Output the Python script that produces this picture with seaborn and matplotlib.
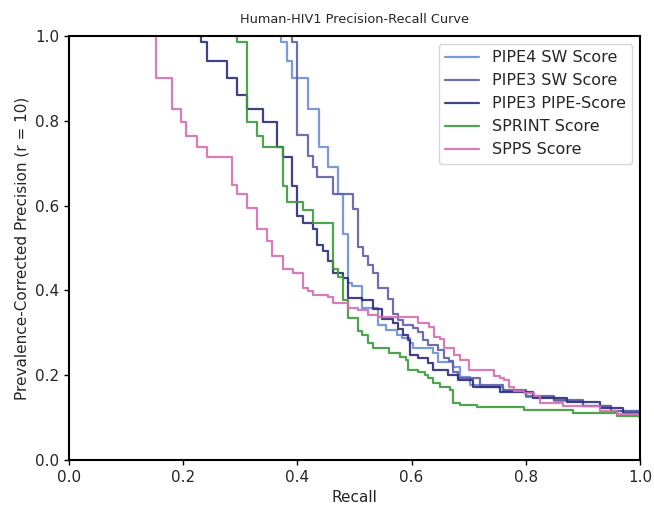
import pandas as pd
import numpy as np
import seaborn as sns
import matplotlib.pyplot as plt

# =========================
# データ (recall, precision) の階段の角
# =========================

pipe4_sw_recall = [0.372, 0.372, 0.381, 0.391, 0.418, 0.437, 0.454, 0.471, 0.479, 0.489, 0.496,
                   0.514, 0.541, 0.556, 0.574, 0.583, 0.597, 0.603, 0.638, 0.647, 0.673, 0.685,
                   0.702, 0.72, 0.76, 0.80, 0.85, 0.90, 0.95, 1.0]
pipe4_sw_precision = [1.0, 0.987, 0.942, 0.900, 0.828, 0.739, 0.692, 0.627, 0.532, 0.417, 0.410,
                      0.358, 0.318, 0.307, 0.295, 0.288, 0.275, 0.263, 0.252, 0.232, 0.220, 0.196,
                      0.178, 0.172, 0.162, 0.148, 0.140, 0.127, 0.115, 0.100]

pipe3_sw_recall = [0.390, 0.390, 0.399, 0.418, 0.427, 0.435, 0.462, 0.497, 0.507, 0.515, 0.524,
                   0.533, 0.542, 0.559, 0.568, 0.577, 0.585, 0.603, 0.612, 0.620, 0.629, 0.647,
                   0.656, 0.665, 0.673, 0.682, 0.72, 0.76, 0.80, 0.85, 0.90, 0.95, 1.0]
pipe3_sw_precision = [1.0, 0.987, 0.767, 0.716, 0.692, 0.668, 0.627, 0.591, 0.503, 0.481, 0.460,
                      0.442, 0.405, 0.379, 0.344, 0.330, 0.318, 0.312, 0.303, 0.283, 0.271, 0.259,
                      0.240, 0.233, 0.208, 0.193, 0.178, 0.165, 0.152, 0.142, 0.128, 0.115, 0.100]

pipe3_pipe_recall = [0.231, 0.231, 0.241, 0.277, 0.295, 0.312, 0.339, 0.365, 0.374, 0.391, 0.400,
                     0.409, 0.427, 0.435, 0.444, 0.453, 0.462, 0.479, 0.488, 0.514, 0.532, 0.549,
                     0.567, 0.576, 0.585, 0.594, 0.597, 0.612, 0.629, 0.638, 0.664, 0.682, 0.708,
                     0.755, 0.813, 0.872, 0.930, 0.97, 1.0]
pipe3_pipe_precision = [1.0, 0.987, 0.941, 0.900, 0.862, 0.828, 0.796, 0.739, 0.714, 0.647, 0.575,
                        0.560, 0.544, 0.506, 0.493, 0.469, 0.440, 0.430, 0.383, 0.377, 0.355, 0.332,
                        0.324, 0.310, 0.295, 0.283, 0.248, 0.240, 0.228, 0.212, 0.200, 0.189, 0.173,
                        0.161, 0.146, 0.137, 0.122, 0.112, 0.100]

sprint_recall = [0.294, 0.294, 0.311, 0.329, 0.339, 0.374, 0.382, 0.409, 0.427, 0.462, 0.471,
                 0.479, 0.488, 0.506, 0.514, 0.523, 0.532, 0.56, 0.58, 0.591, 0.594, 0.612,
                 0.623, 0.629, 0.638, 0.650, 0.667, 0.673, 0.685, 0.714, 0.796, 0.883, 0.959, 1.0]
sprint_precision = [1.0, 0.987, 0.796, 0.764, 0.739, 0.647, 0.608, 0.590, 0.560, 0.450, 0.432,
                    0.377, 0.334, 0.304, 0.295, 0.275, 0.263, 0.252, 0.244, 0.236, 0.212, 0.208,
                    0.200, 0.193, 0.181, 0.173, 0.165, 0.134, 0.130, 0.124, 0.118, 0.110, 0.104, 0.100]

spps_recall = [0.152, 0.152, 0.180, 0.197, 0.205, 0.224, 0.241, 0.285, 0.295, 0.312, 0.330,
               0.347, 0.356, 0.374, 0.392, 0.409, 0.418, 0.427, 0.453, 0.462, 0.488, 0.506,
               0.523, 0.541, 0.612, 0.630, 0.640, 0.649, 0.657, 0.675, 0.684, 0.701, 0.745,
               0.754, 0.762, 0.771, 0.780, 0.797, 0.815, 0.825, 0.866, 0.930, 0.959, 1.0]
spps_precision = [1.0, 0.900, 0.828, 0.796, 0.764, 0.739, 0.714, 0.649, 0.627, 0.594, 0.544,
                  0.517, 0.480, 0.450, 0.440, 0.405, 0.398, 0.390, 0.384, 0.370, 0.358, 0.354,
                  0.342, 0.338, 0.323, 0.314, 0.290, 0.285, 0.265, 0.248, 0.237, 0.212, 0.198,
                  0.193, 0.189, 0.173, 0.163, 0.159, 0.151, 0.135, 0.127, 0.116, 0.108, 0.098]

labels = ['PIPE4 SW Score', 'PIPE3 SW Score', 'PIPE3 PIPE-Score', 'SPRINT Score', 'SPPS Score']
colors = ['#6d8fd6', '#5f5ea6', '#2c2c78', '#3c9a3c', '#d26fb3']

curves = [
    (pipe4_sw_recall, pipe4_sw_precision),
    (pipe3_sw_recall, pipe3_sw_precision),
    (pipe3_pipe_recall, pipe3_pipe_precision),
    (sprint_recall, sprint_precision),
    (spps_recall, spps_precision),
]

df = pd.concat([
    pd.DataFrame({'Recall': r, 'Precision': p, 'Method': lab})
    for (r, p), lab in zip(curves, labels)
], ignore_index=True)

# =========================
# プロット
# =========================

sns.set_style('ticks')
plt.rcParams['font.family'] = ['DejaVu Sans']

fig, ax = plt.subplots(figsize=(6.54, 5.07), dpi=100)
fig.subplots_adjust(left=0.1055, right=0.9786, top=0.929, bottom=0.0927)

sns.lineplot(
    data=df,
    x='Recall',
    y='Precision',
    hue='Method',
    hue_order=labels,
    palette=dict(zip(labels, colors)),
    sort=False,
    estimator=None,
    drawstyle='steps-post',
    linewidth=1.6,
    alpha=0.9,
    ax=ax
)

ax.set_xlim(0, 1)
ax.set_ylim(0, 1)
ax.set_xticks(np.arange(0, 1.01, 0.2))
ax.set_yticks(np.arange(0, 1.01, 0.2))
ax.set_title('Human-HIV1 Precision-Recall Curve', fontsize=9.3, pad=9)
ax.set_xlabel('Recall', fontsize=11)
ax.set_ylabel('Prevalence-Corrected Precision (r = 10)', fontsize=11)
ax.tick_params(labelsize=11, width=1.0, length=3.5, color='black')
for s in ax.spines.values():
    s.set_linewidth(1.5)
    s.set_color('black')

ax.legend(loc='upper right', fontsize=11.5, title=None, handlelength=2.1)

fig.savefig('out.png', dpi=100)
